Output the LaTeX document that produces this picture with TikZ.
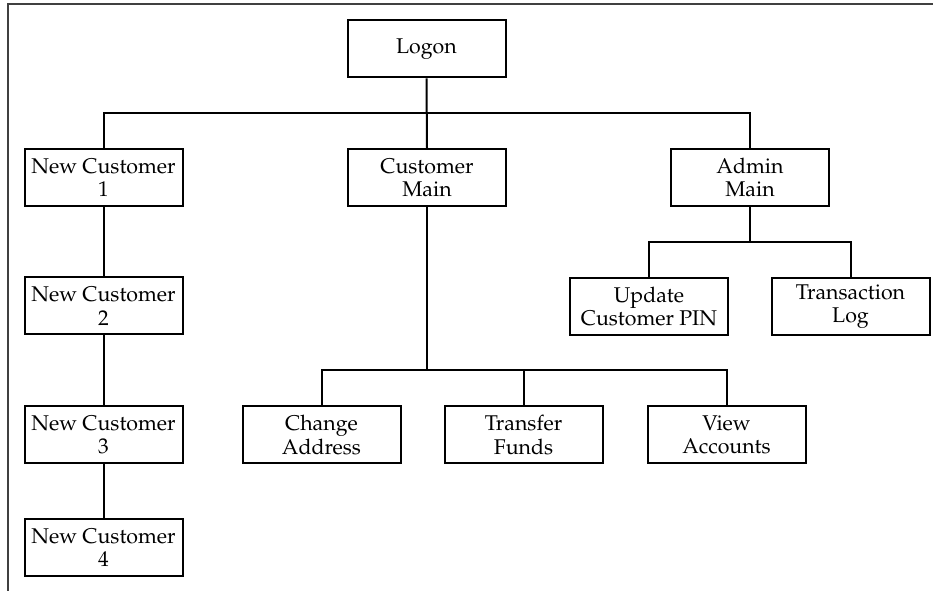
\documentclass[tikz,border=0pt]{standalone}
\usepackage[T1]{fontenc}
\usepackage{mathpazo}
\usepackage{tikz}
\usetikzlibrary{positioning,calc}

\begin{document}
\begin{tikzpicture}[x=0.75pt,y=0.75pt,line join=miter,
    font=\fontsize{16}{17.5}\selectfont,
    screen/.style={draw,line width=1.5pt,minimum width=118.5pt,minimum height=42.75pt,
      inner sep=0pt,align=center},
    link/.style={line width=1.5pt}]
  \useasboundingbox (0,0) rectangle (933,591);
  % page frame (top and left edge only)
  \draw[black!75,line width=1.1pt] (933,587) -- (8,587) -- (8,0);
  % top level
  \node[screen] (logon) at (426.5,542) {Logon};
  \node[screen] (newcust1) at (103.5,413.5) {New Customer\\1};
  \node[screen] (custmain) at (427,413.5) {Customer\\Main};
  \node[screen] (adminmain) at (750,413.5) {Admin\\Main};
  % new customer chain
  \node[screen] (newcust2) at (103.5,285) {New Customer\\2};
  \node[screen] (newcust3) at (103.5,156) {New Customer\\3};
  \node[screen] (newcust4) at (103.5,43.5) {New Customer\\4};
  % admin screens
  \node[screen] (updpin) at (649,284.5) {Update\\Customer PIN};
  \node[screen] (translog) at (850.5,284.5) {Transaction\\Log};
  % customer screens
  \node[screen] (chaddr) at (321.5,156) {Change\\Address};
  \node[screen] (transfer) at (523.5,156) {Transfer\\Funds};
  \node[screen] (viewacc) at (726.5,156) {View\\Accounts};
  % bus levels
  \coordinate (topbus) at (0,478);
  \coordinate (adminbus) at (0,349);
  \coordinate (custbus) at (0,221);
  % connectors
  \draw[link] (logon.south) -- (custmain.north);
  \draw[link] (newcust1.north) |- (topbus -| adminmain) -- (adminmain.north);
  \draw[link] (newcust1.south) -- (newcust2.north);
  \draw[link] (newcust2.south) -- (newcust3.north);
  \draw[link] (newcust3.south) -- (newcust4.north);
  \draw[link] (adminmain.south) -- (adminbus -| adminmain);
  \draw[link] (updpin.north) |- (adminbus -| translog) -- (translog.north);
  \draw[link] (custmain.south) -- (custbus -| custmain);
  \draw[link] (chaddr.north) |- (custbus -| viewacc) -- (viewacc.north);
  \draw[link] (transfer.north) -- (custbus -| transfer);
\end{tikzpicture}
\end{document}
